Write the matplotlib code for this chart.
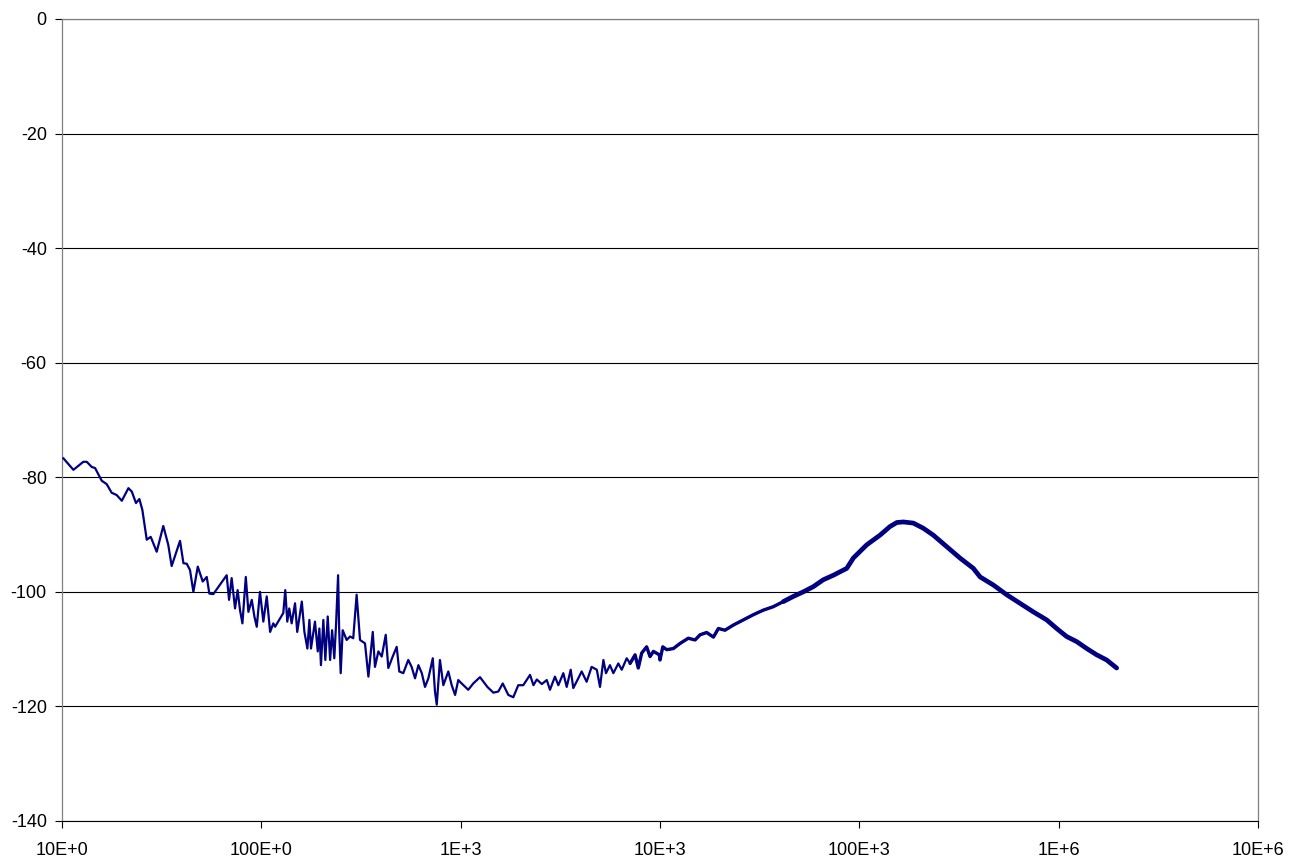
import numpy as np
import matplotlib
matplotlib.use("Agg")
import matplotlib.pyplot as plt

plt.rcParams["font.family"] = ["Liberation Sans", "DejaVu Sans"]
plt.rcParams["axes.unicode_minus"] = False

# log10(frequency / Hz) and level (dB)
log_freq = np.array([
    1.007, 1.057, 1.107, 1.124, 1.149, 1.166, 1.199, 1.224, 1.249, 1.274,
    1.300, 1.333, 1.350, 1.371, 1.388, 1.403, 1.425, 1.445, 1.475, 1.508,
    1.533, 1.550, 1.567, 1.592, 1.609, 1.626, 1.642, 1.659, 1.681, 1.706,
    1.726, 1.739, 1.759, 1.826, 1.838, 1.851, 1.868, 1.881, 1.893, 1.905,
    1.922, 1.935, 1.952, 1.965, 1.977, 1.993, 2.010, 2.027, 2.044, 2.060,
    2.069, 2.110, 2.120, 2.130, 2.140, 2.152, 2.169, 2.180, 2.203, 2.216,
    2.231, 2.241, 2.249, 2.269, 2.283, 2.291, 2.299, 2.311, 2.321, 2.333,
    2.345, 2.355, 2.366, 2.375, 2.385, 2.390, 2.398, 2.408, 2.428, 2.445,
    2.461, 2.478, 2.495, 2.520, 2.537, 2.559, 2.570, 2.587, 2.604, 2.624,
    2.637, 2.659, 2.679, 2.692, 2.712, 2.737, 2.754, 2.771, 2.788, 2.805,
    2.821, 2.838, 2.860, 2.871, 2.880, 2.896, 2.913, 2.938, 2.955, 2.972,
    2.988, 3.005, 3.038, 3.063, 3.097, 3.134, 3.164, 3.189, 3.211, 3.239,
    3.264, 3.289, 3.314, 3.348, 3.365, 3.382, 3.407, 3.432, 3.448, 3.473,
    3.490, 3.515, 3.532, 3.552, 3.565, 3.590, 3.607, 3.632, 3.657, 3.683,
    3.699, 3.716, 3.729, 3.749, 3.766, 3.791, 3.808, 3.833, 3.850, 3.875,
    3.891, 3.908, 3.933, 3.950, 3.967, 3.997, 4.000, 4.014, 4.034, 4.067,
    4.101, 4.142, 4.176, 4.201, 4.234, 4.268, 4.293, 4.326, 4.368, 4.418,
    4.468, 4.518, 4.568, 4.619, 4.669, 4.719, 4.769, 4.819, 4.870, 4.937,
    4.970, 5.037, 5.104, 5.154, 5.188, 5.221, 5.271, 5.321, 5.371, 5.438,
    5.505, 5.572, 5.606, 5.672, 5.739, 5.806, 5.873, 5.940, 5.990, 6.040,
    6.091, 6.141, 6.191, 6.241, 6.291,
])
level_db = np.array([
    -76.7, -78.7, -77.3, -77.3, -78.2, -78.4, -80.6, -81.2, -82.7, -83.1,
    -84.1, -81.9, -82.5, -84.5, -83.8, -85.7, -90.9, -90.4, -93.0, -88.5,
    -91.8, -95.5, -93.7, -91.1, -95.0, -95.1, -96.2, -100.0, -95.6, -98.2,
    -97.4, -100.3, -100.4, -97.1, -101.4, -97.6, -102.9, -99.7, -103.2, -105.5,
    -97.4, -103.5, -101.4, -104.3, -106.1, -100.0, -105.2, -100.8, -107.0, -105.5,
    -106.1, -103.7, -99.7, -105.2, -102.9, -105.5, -102.0, -107.0, -101.7, -107.0,
    -109.9, -104.9, -109.9, -105.2, -110.4, -106.4, -112.8, -104.9, -111.9, -104.3,
    -111.9, -106.7, -111.6, -105.5, -97.1, -106.1, -114.2, -106.7, -108.4, -107.8,
    -108.1, -100.5, -108.4, -109.0, -114.8, -107.0, -113.1, -110.4, -111.3, -107.5,
    -113.3, -111.3, -109.6, -113.9, -114.2, -111.9, -113.1, -115.1, -112.8, -114.2,
    -116.6, -115.1, -111.6, -117.4, -119.7, -111.9, -116.3, -113.9, -116.3, -118.0,
    -115.4, -116.0, -117.1, -116.0, -114.9, -116.6, -117.6, -117.4, -116.0, -118.0,
    -118.4, -116.3, -116.3, -114.5, -116.3, -115.3, -116.1, -115.4, -117.1, -114.8,
    -116.3, -114.2, -116.6, -113.6, -116.8, -115.1, -113.9, -115.7, -113.1, -113.6,
    -116.6, -111.9, -114.2, -112.8, -114.2, -112.5, -113.6, -111.6, -112.5, -111.0,
    -113.3, -110.7, -109.6, -111.3, -110.4, -111.0, -111.9, -109.6, -110.1, -109.9,
    -109.0, -108.1, -108.4, -107.5, -107.1, -107.9, -106.4, -106.7, -105.8, -104.9,
    -104.0, -103.2, -102.6, -101.7, -100.8, -100.0, -99.1, -97.9, -97.1, -95.9,
    -94.1, -91.8, -90.1, -88.6, -87.9, -87.8, -88.0, -88.9, -90.1, -92.1,
    -94.1, -95.9, -97.4, -98.8, -100.5, -102.0, -103.5, -104.9, -106.4, -107.8,
    -108.7, -109.9, -111.0, -111.9, -113.3,
])

freq = 10 ** log_freq

x_ticks = [1e1, 1e2, 1e3, 1e4, 1e5, 1e6, 1e7]
x_tick_labels = ["10E+0", "100E+0", "1E+3", "10E+3", "100E+3", "1E+6", "10E+6"]
y_ticks = [0, -20, -40, -60, -80, -100, -120, -140]

fig = plt.figure(figsize=(12.95, 8.63), dpi=100)
ax = fig.add_axes([0.0479, 0.0487, 0.9235, 0.9293])

line_color = "#000080"
ax.plot(freq, level_db, color=line_color, lw=1.6, zorder=3)
# dense sampling at high frequency shows up as a thicker band
mid = (log_freq >= 3.85) & (log_freq <= 4.65)
hf = log_freq >= 4.6
ax.plot(freq[mid], level_db[mid], color=line_color, lw=2.4, zorder=3,
        solid_joinstyle="round", solid_capstyle="round")
ax.plot(freq[hf], level_db[hf], color=line_color, lw=3.4, zorder=3,
        solid_joinstyle="round", solid_capstyle="round")

ax.set_xscale("log")
ax.set_xlim(1e1, 1e7)
ax.set_ylim(-140, 0)
ax.set_xticks(x_ticks)
ax.set_xticklabels(x_tick_labels)
ax.xaxis.set_minor_locator(matplotlib.ticker.NullLocator())
ax.set_yticks(y_ticks)
ax.set_yticklabels([str(v) for v in y_ticks])

ax.yaxis.grid(True, color="black", lw=0.8)
ax.set_axisbelow(True)
ax.tick_params(axis="both", labelsize=13, colors="black", length=5,
               width=0.8, direction="out")
ax.tick_params(axis="x", pad=10)
ax.tick_params(axis="y", pad=6)

ax.spines["bottom"].set_color("black")
ax.spines["bottom"].set_linewidth(0.8)
for side in ["left", "top", "right"]:
    ax.spines[side].set_color("#808080")
    ax.spines[side].set_linewidth(0.9)

fig.savefig("out.png", dpi=100)
